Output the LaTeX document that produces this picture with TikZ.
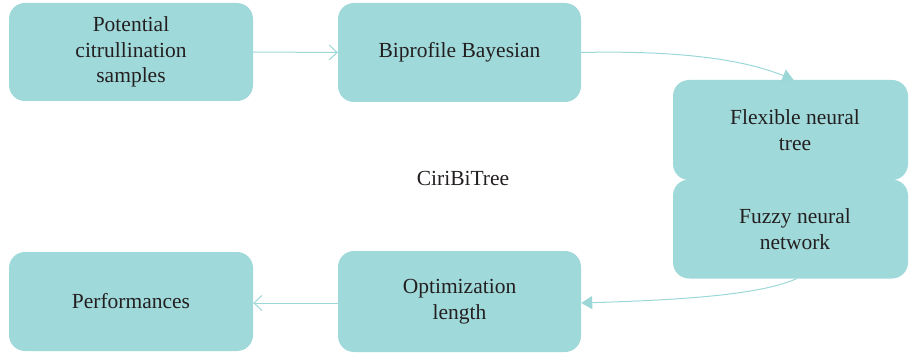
\documentclass[tikz,border=0pt]{standalone}
\usepackage{fontspec}
\setmainfont{Liberation Serif}
\usetikzlibrary{arrows.meta}
\definecolor{boxfill}{HTML}{A0D9DA}
\definecolor{linec}{HTML}{9CD7D8}
\definecolor{txt}{HTML}{231F20}
\begin{document}
\begin{tikzpicture}[x=1pt,y=-1pt,
  box/.style={fill=boxfill, rounded corners=16pt, minimum width=#1, text=txt,
    font=\fontsize{21.5}{25.5}\selectfont, align=center, inner sep=0pt},
  box/.default=244pt,
  conn/.style={draw=linec, line width=1pt},
  openarr/.style={conn, -{Straight Barb[length=8pt,width=15pt,line width=1pt]}},
  fillarr/.style={conn, -{Triangle[length=11pt,width=13pt,fill=linec]}},
  lbl/.style={text=txt, font=\fontsize{21.5}{25.5}\selectfont, inner sep=0pt}]
\useasboundingbox (0,0) rectangle (910,358);
\node[box, minimum height=98pt] (b1) at (131,52) {Potential\\citrullination\\samples};
\node[box=243pt, minimum height=99pt] (b2) at (459.5,52.5) {Biprofile Bayesian};
\node[box=235pt, minimum height=100pt] (b3) at (790.5,130) {\hspace*{9pt}Flexible neural\\\hspace*{9pt}tree};
\node[box=235pt, minimum height=99pt] (b4) at (790.5,229) {\hspace*{9pt}Fuzzy neural\\\hspace*{9pt}network};
\node[box=243pt, minimum height=101pt] (b5) at (459.5,301.5) {Optimization\\length};
\node[box, minimum height=99pt] (b6) at (131,301.5) {Performances};
\node[lbl] (c) at (463,178) {CiriBiTree};
\draw[openarr] (b1.east) -- (b2.west);
\draw[fillarr] (b2.east) .. controls (690,50) and (750,62) .. ([xshift=3pt]b3.north);
\draw[fillarr] ([xshift=6pt]b4.south) .. controls (760,295) and (680,300) .. ([yshift=-1.5pt]b5.east);
\draw[openarr] ([yshift=-1.5pt]b5.west) -- ([yshift=-1.5pt]b6.east);
\end{tikzpicture}
\end{document}
